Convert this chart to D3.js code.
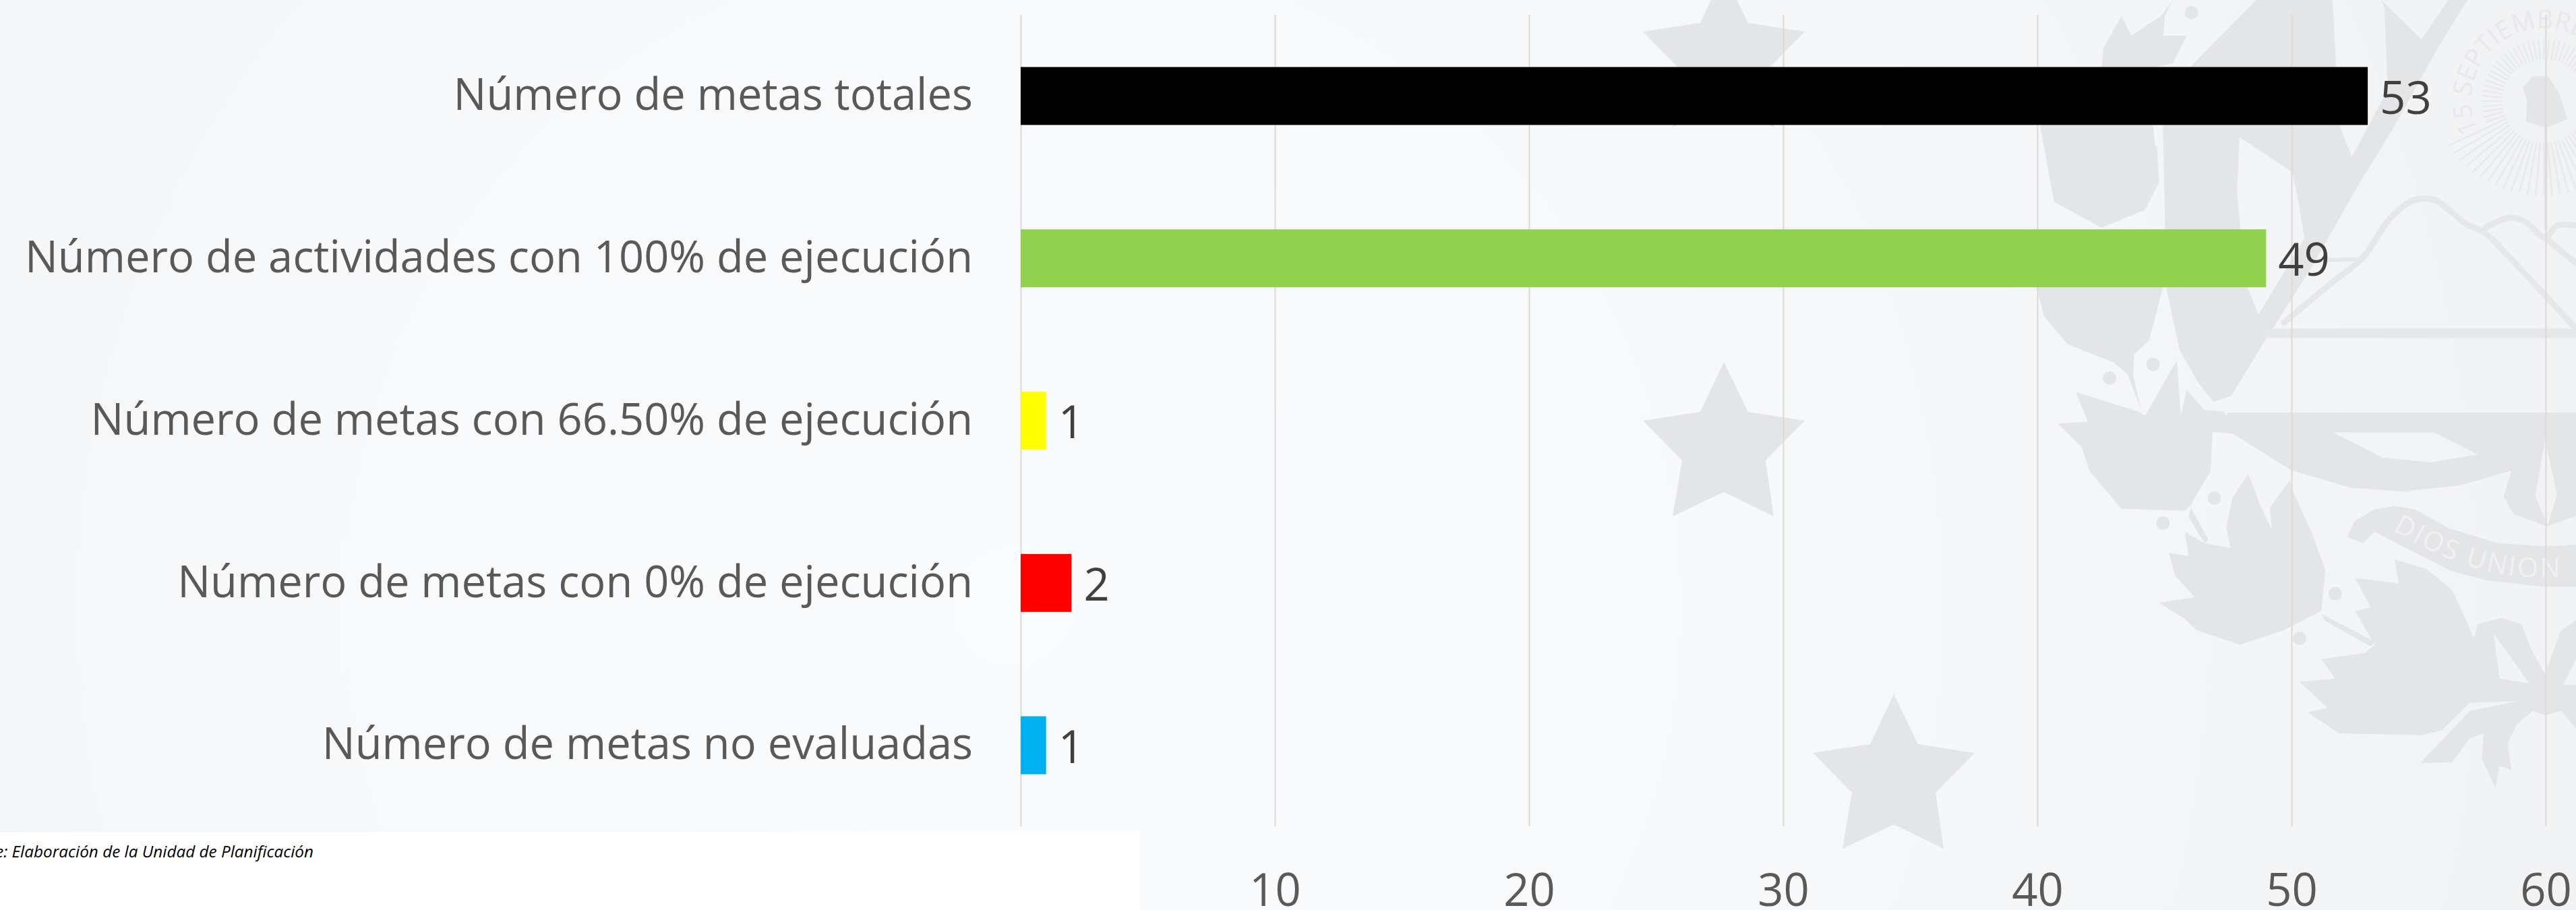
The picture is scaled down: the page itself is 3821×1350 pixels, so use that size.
<!DOCTYPE html>
<html>
<head>
<meta charset="utf-8">
<script src="https://cdnjs.cloudflare.com/ajax/libs/d3/7.8.5/d3.min.js"></script>
<style>
html,body{margin:0;padding:0;background:#f8f9fb;overflow:hidden;}
text{font-family:"Open Sans",sans-serif;}
</style>
</head>
<body>
<svg id="chart" width="3821" height="1350"></svg>
<script>
var categories = ["Número de metas totales","Número de actividades con 100% de ejecución","Número de metas con 66.50% de ejecución","Número de metas con 0% de ejecución","Número de metas no evaluadas"];
var values = [53,49,1,2,1];
var barColors = ["#000000","#92d050","#ffff00","#ff0000","#00b0f0"];
var tickValues = [0,10,20,30,40,50,60];
var sourceNote = "Fuente: Elaboración de la Unidad de Planificación";

var WIDTH=3821, HEIGHT=1350;
var MARK="#e4e5e7";

var svg = d3.select("#chart");

var x = d3.scaleLinear().domain([0,60]).range([1514,3776]);
var y = d3.scaleBand().domain(categories).range([22,1226]).paddingInner(0.643).paddingOuter(0.3215);

// ---------------------------------- background ----------------------------------
var defs = svg.append("defs");
var grad = defs.append("radialGradient").attr("id","bg").attr("gradientUnits","userSpaceOnUse")
	.attr("cx",1500).attr("cy",900).attr("r",2450);
grad.append("stop").attr("offset","0").attr("stop-color","#fafbfd");
grad.append("stop").attr("offset","0.4").attr("stop-color","#f8f9fb");
grad.append("stop").attr("offset","1").attr("stop-color","#f1f2f4");
svg.append("rect").attr("width",WIDTH).attr("height",HEIGHT).attr("fill","url(#bg)");

// ---------------------------------- watermark (coat of arms) ----------------------------------
// traced by eye from crops of the picture, each f* maps one crop back to the page
function fA(p){return [2900+p[0]/1.7025,p[1]/1.7025];}
function fB(p){return [2900+p[0]/1.7025,600+p[1]/2.09];}
function fC(p){return [3150+p[0]/3,p[1]/3];}
function fS(p){return [3560+p[0]/3,p[1]/3];}

var gMark = svg.append("g").attr("id","watermark");

function _polyPath(points,f){
	return "M"+points.map(function(p){var q=f(p);return q[0].toFixed(1)+","+q[1].toFixed(1);}).join("L")+"Z";
}
function _drawPoly(points,f){
	gMark.append("path").attr("d",_polyPath(points,f)).attr("fill",MARK);
}
function _drawHoled(outer,holes,f){
	var d=_polyPath(outer,f);
	holes.forEach(function(h){d+=_polyPath(h,f);});
	gMark.append("path").attr("d",d).attr("fill",MARK).attr("fill-rule","evenodd");
}
function _drawLine(points,f,w){
	gMark.append("path").attr("d",d3.line().curve(d3.curveCatmullRom)(points.map(f)))
		.attr("fill","none").attr("stroke","#e6e7e9").attr("stroke-width",w).attr("stroke-linecap","round");
}
function _drawDot(p,f,r){
	var q=f(p);
	gMark.append("circle").attr("cx",q[0]).attr("cy",q[1]).attr("r",r).attr("fill",MARK);
}

// stars
var starShape = [[0,-87],[36,-13],[120,0],[62,59],[74,142],[0,106],[-76,142],[-62,59],[-120,0],[-35,-13]];
[[2557,47],[2557,624],[2809,1117]].forEach(function(c){
	_drawPoly(starShape,function(p){return [p[0]+c[0],p[1]+c[1]];});
});

// flags and the triangle's left side
_drawHoled(
	[[590,0],[930,0],[945,297],[960,555],[1015,700],[1175,400],[1160,30],[1145,0],[1325,175],[1445,0],[1530,0],[1400,210],[1200,570],[1040,830],[830,1200],[620,1530],[480,1760],[400,1790],[330,1700],[250,1560],[190,1280],[175,555],[175,420]],
	[[[515,610],[750,765],[775,880],[805,1060],[600,1400],[540,1250],[505,850]]],
	fC);

// wreath leaves, upper
_drawPoly([[370,170],[375,120],[420,40],[445,90],[520,40],[550,0],[530,40],[525,90],[585,90],[550,160],[480,175],[500,320],[515,460],[480,530],[370,575],[250,510],[215,320]],fA);
_drawPoly([[470,345],[510,370],[515,460],[440,400]],fA);
_drawDot([597,32],fA,10);

// wreath leaves, under the green bar
_drawPoly([[205,725],[225,800],[285,870],[400,915],[435,945],[470,1035],[450,950],[452,895],[490,860],[525,725]],fA);
_drawDot([390,955],fA,10);
_drawDot([500,920],fA,10);

// leaf running into the crescent
_drawPoly([[305,990],[465,1040],[480,1050],[560,910],[570,1050],[585,985],[630,1035],[680,1040],[700,1095],[650,1090],[645,1190],[595,1275],[580,1290],[420,1285],[340,1190],[320,1130],[260,1070],[335,1065]],fA);

// crescent below the triangle
_drawHoled(
	[[690,25],[1568,25],[1568,345],[1495,378],[1410,340],[1385,285],[1405,205],[1280,250],[1130,270],[1000,258],[850,205],[700,90],[650,85]],
	[[[955,87],[1210,87],[1320,155],[1200,180],[1080,165]],[[1490,110],[1520,280],[1497,375],[1465,285]]],
	fB);

// lower leaves
_drawPoly([[740,215],[770,310],[800,390],[795,320],[845,235],[850,260],[905,410],[935,515],[925,640],[830,700],[720,745],[610,700],[580,665],[515,615],[605,598],[555,530],[540,460],[590,470],[580,395],[630,430],[695,445],[685,380],[700,290]],fB);
_drawPoly([[595,320],[640,420],[630,430],[590,350]],fB);
_drawPoly([[925,650],[1060,735],[1050,750],[935,672]],fB);
_drawDot([655,290],fB,10);
_drawDot([525,368],fB,10);
_drawDot([960,587],fB,10);
_drawDot([870,725],fB,10);

// last leaf and the bow
_drawHoled(
	[[1110,480],[1190,510],[1255,575],[1280,640],[1310,725],[1320,680],[1380,662],[1430,680],[1455,760],[1490,835],[1530,700],[1568,670],[1568,1005],[1530,950],[1490,965],[1460,950],[1420,990],[1395,1050],[1405,1135],[1375,1120],[1365,1190],[1330,1100],[1335,1020],[1300,1035],[1255,1110],[1175,1112],[1300,950],[1420,920],[1300,925],[1230,1010],[1180,1025],[970,1020],[890,955],[940,940],[870,860],[960,850],[925,790],[1035,770],[1060,745],[1010,640],[1050,630],[1010,538],[1120,555]],
	[[[1360,710],[1450,865],[1375,850]],[[1535,870],[1568,790],[1568,870]]],
	fB);

// ribbon
_drawPoly([[990,410],[1010,360],[1060,325],[1110,315],[1160,325],[1250,385],[1370,430],[1490,440],[1568,435],[1568,565],[1480,565],[1340,545],[1250,515],[1130,440],[1060,395],[1030,430]],fB);
defs.append("path").attr("id","ribbonPath")
	.attr("d",d3.line().curve(d3.curveCatmullRom)([[1105,390],[1250,480],[1400,530],[1568,535]].map(fB)));
gMark.append("text").attr("font-size",40).attr("letter-spacing",3).attr("fill","#f0f1f3")
	.append("textPath").attr("href","#ribbonPath").text("DIOS UNION");

// triangle base and volcanoes
_drawLine([[790,842],[1568,842]],fA,14);
_drawLine([[830,815],[950,715],[1030,650],[1100,550],[1160,505],[1210,505],[1290,565],[1340,590],[1400,650],[1568,830]],fA,9);
_drawLine([[1340,575],[1400,550],[1440,560],[1490,600],[1520,570],[1568,570]],fA,9);
_drawLine([[1490,600],[1568,665]],fA,9);
_drawLine([[910,658],[1010,655]],fA,6);

// liberty cap, rays and motto
var sunCenter = fS([640,450]);
var gSun = gMark.append("g").attr("transform","translate("+sunCenter[0]+","+sunCenter[1]+")");
d3.range(0,360,5).forEach(function(a){
	var r = a*Math.PI/180;
	var down = Math.cos(r);            // 1 at the bottom of the circle
	var outer = down>0.35 ? 140+30*(1-down) : 92;
	gSun.append("line")
		.attr("x1",Math.sin(r)*62).attr("y1",Math.cos(r)*62)
		.attr("x2",Math.sin(r)*outer).attr("y2",Math.cos(r)*outer)
		.attr("stroke","#e8e9eb").attr("stroke-width",2.5);
});
_drawPoly([[545,390],[590,340],[660,340],[710,420],[745,530],[650,570],[560,540],[565,450]],fS);
gMark.append("rect").attr("x",sunCenter[0]+1).attr("y",190).attr("width",4).attr("height",150).attr("fill",MARK);
defs.append("path").attr("id","sunPath")
	.attr("d",d3.arc()({innerRadius:108,outerRadius:108,startAngle:-2.0,endAngle:1.6}))
	.attr("transform","translate("+sunCenter[0]+","+sunCenter[1]+")");
gMark.append("text").attr("font-size",38).attr("fill","#e7e8ea")
	.append("textPath").attr("href","#sunPath").text("15 SEPTIEMBRE");

// ---------------------------------- axes ----------------------------------
var gGrid = svg.append("g").attr("class","xAxis").attr("transform","translate(0,1226)")
	.call(d3.axisBottom(x).tickValues(tickValues).tickSize(-1204).tickPadding(70)
		.tickFormat(function(d){return d===0?"":d;}));
gGrid.select(".domain").remove();
gGrid.selectAll("line").attr("stroke","#d9d9d9").attr("stroke-width",2);
gGrid.selectAll("text").attr("font-size",67).attr("font-family","'Open Sans',sans-serif").attr("fill","#595959").attr("dy","0.71em");

var gCats = svg.append("g").attr("class","yAxis").attr("transform","translate(1514,0)")
	.call(d3.axisLeft(y).tickSize(0).tickPadding(71));
gCats.select(".domain").remove();
gCats.selectAll("text").attr("font-size",65).attr("font-family","'Open Sans',sans-serif").attr("fill","#595959");

// ---------------------------------- bars ----------------------------------
svg.append("g").attr("id","bars").selectAll("rect")
	.data(values)
	.enter().append("rect")
	.attr("x",x(0))
	.attr("y",function(d,i){return y(categories[i]);})
	.attr("width",function(d){return x(d)-x(0);})
	.attr("height",y.bandwidth())
	.attr("fill",function(d,i){return barColors[i];});

svg.append("g").attr("id","barLabels").selectAll("text")
	.data(values)
	.enter().append("text")
	.attr("x",function(d){return x(d)+18;})
	.attr("y",function(d,i){return y(categories[i])+y.bandwidth()/2+2;})
	.attr("dy","0.36em")
	.attr("font-size",67)
	.attr("fill","#404040")
	.text(function(d){return d;});

// ---------------------------------- white source box ----------------------------------
svg.append("rect").attr("x",0).attr("y",1235).attr("width",1690).attr("height",115).attr("fill","#ffffff");
svg.append("text").attr("x",465).attr("y",1272).attr("text-anchor","end")
	.attr("font-size",24.3).attr("font-style","italic").attr("fill","#000000")
	.text(sourceNote);
</script>
</body>
</html>
